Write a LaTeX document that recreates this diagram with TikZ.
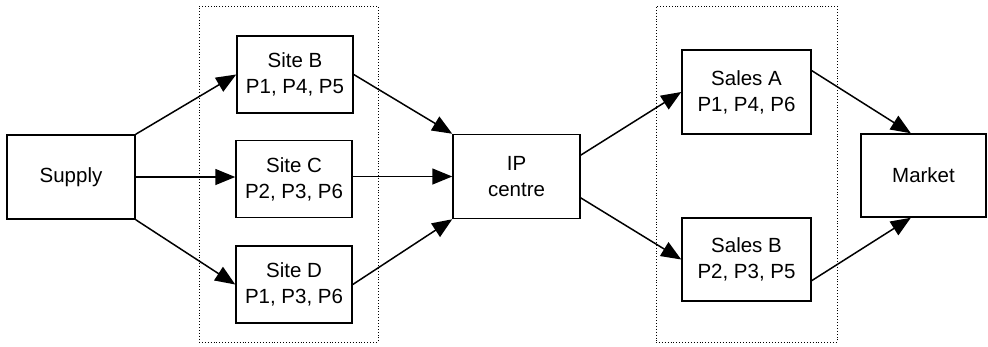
\documentclass[tikz,border=0pt]{standalone}
\usepackage{fontspec}
\setmainfont{Liberation Sans}
\usetikzlibrary{arrows.meta,calc}
\begin{document}
\begin{tikzpicture}[x=1pt,y=-1pt,
  box/.style={draw,line width=1.5pt,align=center,inner sep=0pt,
    font=\fontsize{20.5}{26}\selectfont},
  group/.style={draw,dotted,line width=0.9pt,inner sep=0pt},
  conn/.style={line width=1.5pt,-{Triangle[length=20pt,width=16pt]}}]
\useasboundingbox (0,0) rectangle (988,346);
\node[group,minimum width=179,minimum height=336] (g1) at (288.5,174) {};
\node[group,minimum width=181,minimum height=336] (g2) at (746.5,174) {};
\node[box,minimum width=128,minimum height=84] (supply) at (71,177) {Supply};
\node[box,minimum width=116,minimum height=77] (siteB) at (295,74.5) {Site B\\P1, P4, P5};
\node[box,minimum width=116,minimum height=77] (siteC) at (294,179) {Site C\\P2, P3, P6};
\node[box,minimum width=116,minimum height=77] (siteD) at (294,284.5) {Site D\\P1, P3, P6};
\node[box,minimum width=127,minimum height=84] (ip) at (516.5,176.5) {IP\\centre};
\node[box,minimum width=129,minimum height=84] (salesA) at (746.5,92) {Sales A\\P1, P4, P6};
\node[box,minimum width=129,minimum height=83] (salesB) at (746.5,259.5) {Sales B\\P2, P3, P5};
\node[box,minimum width=125,minimum height=83] (market) at (923.5,175.5) {Market};
\draw[conn] (supply.north east) -- (siteB.west);
\draw[conn] (supply.east) -- (supply.east -| siteC.west);
\draw[conn] (supply.south east) -- (siteD.west);
\draw[conn] (siteB.east) -- (ip.north west);
\draw[conn] (siteC.east |- ip.west) -- (ip.west);
\draw[conn] (siteD.east) -- (ip.south west);
\draw[conn] ($(ip.north east)!0.25!(ip.south east)$) -- (salesA.west);
\draw[conn] ($(ip.north east)!0.75!(ip.south east)$) -- (salesB.west);
\draw[conn] ($(salesA.north east)!0.25!(salesA.south east)$) -- ($(market.north west)!0.4!(market.north east)$);
\draw[conn] ($(salesB.north east)!0.75!(salesB.south east)$) -- ($(market.south west)!0.4!(market.south east)$);
\end{tikzpicture}
\end{document}
